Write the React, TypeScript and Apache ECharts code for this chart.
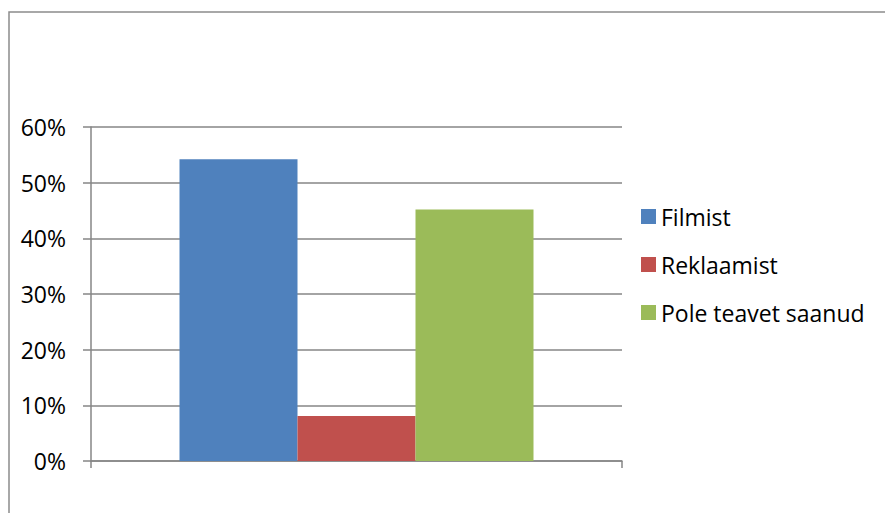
import React, { useEffect, useRef } from "react";
import * as echarts from "echarts";

const categories = [""];
const seriesNames = ["Filmist", "Reklaamist", "Pole teavet saanud"];
const seriesValues = [54.2, 8.1, 45.2];
const seriesColors = ["#4F81BD", "#C0504D", "#9BBB59"];
const yTicks = [0, 10, 20, 30, 40, 50, 60];

export default function App() {
  const ref = useRef<HTMLDivElement>(null);
  useEffect(() => {
    if (!ref.current) return;
    const chart = echarts.init(ref.current, null, { renderer: "svg" });
    const font = "Open Sans";
    chart.setOption({
      animation: false,
      backgroundColor: "#ffffff",
      textStyle: { fontFamily: font },
      graphic: [
        {
          type: "rect",
          shape: { x: 9, y: 12, width: 900, height: 540 },
          style: { fill: "none", stroke: "#8c8c8c", lineWidth: 1.5 },
          silent: true,
        },
      ],
      grid: { left: 91, right: 885 - 622, top: 127, bottom: 513 - 461 },
      legend: {
        orient: "vertical",
        left: 641,
        top: 205,
        padding: 0,
        itemWidth: 15,
        itemHeight: 15,
        itemGap: 25,
        itemTextGap: 7,
        icon: "rect",
        textStyle: { fontFamily: font, fontSize: 23, color: "#000", lineHeight: 23 },
        data: seriesNames,
      },
      xAxis: {
        type: "category",
        data: categories,
        axisLine: { show: true, lineStyle: { color: "#868686", width: 1.5 } },
        axisTick: { show: true, length: 7, lineStyle: { color: "#868686", width: 1.5 } },
        axisLabel: { show: false },
      },
      yAxis: {
        type: "value",
        min: yTicks[0],
        max: yTicks[yTicks.length - 1],
        interval: 10,
        axisLine: { show: true, lineStyle: { color: "#868686", width: 1.5 } },
        axisTick: { show: true, length: 8, lineStyle: { color: "#868686", width: 1.5 } },
        splitLine: { show: true, lineStyle: { color: "#868686", width: 1.5 } },
        axisLabel: {
          margin: 25,
          fontFamily: font,
          fontSize: 23,
          color: "#000",
          formatter: (v: number) => `${v}%`,
        },
      },
      series: seriesNames.map((name, i) => ({
        name,
        type: "bar",
        data: [seriesValues[i]],
        barWidth: 118,
        barGap: "0%",
        itemStyle: { color: seriesColors[i] },
      })),
    });
    return () => chart.dispose();
  }, []);
  return (
    <div
      ref={ref}
      style={{ position: "fixed", left: 0, top: 0, width: 885, height: 513 }}
    />
  );
}
